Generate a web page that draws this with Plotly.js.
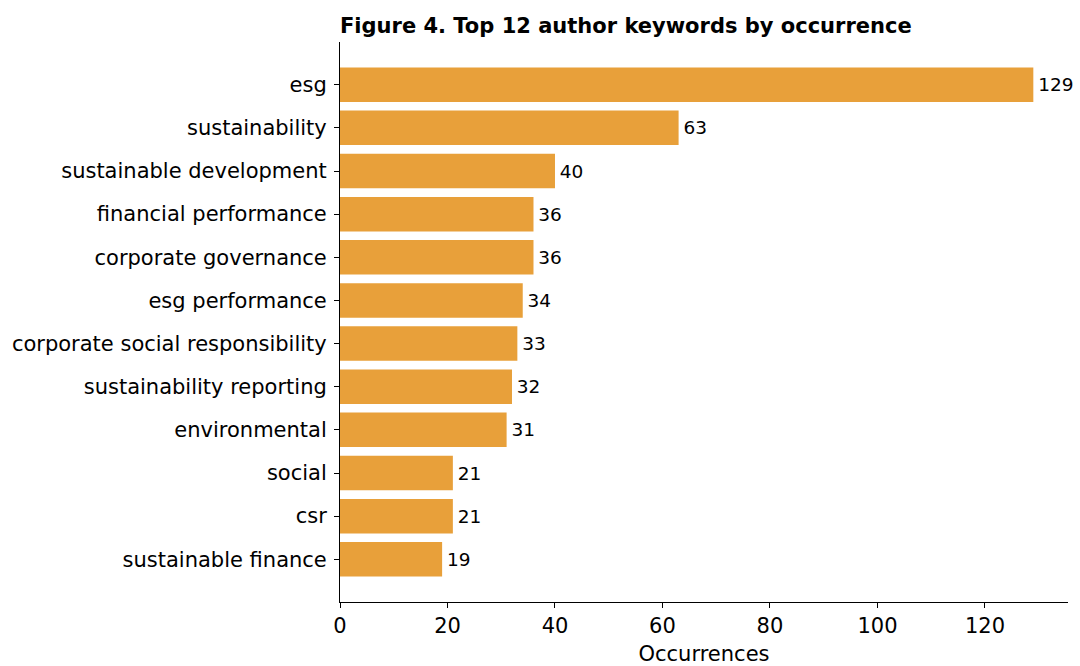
<!DOCTYPE html>
<html><head><meta charset="utf-8">
<script src="https://cdn.plot.ly/plotly-3.0.1.min.js"></script>
<style>html,body{margin:0;padding:0;background:#fff}</style>
</head><body>
<div id="chart" style="width:1080px;height:666px"></div>
<script>
const keywords = ["esg","sustainability","sustainable development","financial performance","corporate governance","esg performance","corporate social responsibility","sustainability reporting","environmental","social","csr","sustainable finance"];
const occurrences = [129,63,40,36,36,34,33,32,31,21,21,19];
const xTicks = [0,20,40,60,80,100,120];

const font = "DejaVu Sans, sans-serif";
const trace = {
  type: "bar", orientation: "h",
  x: occurrences, y: keywords,
  width: 0.8,
  marker: {color: "#E8A03A"},
  text: occurrences.map(v => "\u200A" + v),
  textposition: "outside",
  textfont: {family: font, size: 18.5, color: "#000"},
  cliponaxis: false,
  hoverinfo: "x+y"
};
const layout = {
  width: 1080, height: 666,
  margin: {l: 340, r: 12, t: 42, b: 64},
  paper_bgcolor: "#fff", plot_bgcolor: "#fff",
  showlegend: false,
  font: {family: font, color: "#000"},
  title: {text: "<b>Figure 4. Top 12 author keywords by occurrence</b>", x: 0, xref: "paper", xanchor: "left", y: 1, yref: "paper", yanchor: "bottom", pad: {b: 9}, font: {family: font, size: 21, color: "#000"}},
  xaxis: {range: [0, 135.45], tickvals: xTicks, ticktext: xTicks.map(String), showgrid: false, zeroline: false, showline: true, linecolor: "#000", linewidth: 1, ticks: "outside", ticklen: 5, tickcolor: "#000", tickfont: {family: font, size: 21, color: "#000"}, title: {text: "Occurrences", font: {family: font, size: 21, color: "#000"}, standoff: 9}},
  yaxis: {type: "category", categoryorder: "array", categoryarray: keywords, range: [11.99, -0.99], showgrid: false, zeroline: false, showline: true, linecolor: "#000", linewidth: 1, ticks: "outside", ticklen: 5, tickcolor: "#000", tickfont: {family: font, size: 21, color: "#000"}, ticklabelstandoff: 3}
};
Plotly.newPlot("chart", [trace], layout, {displayModeBar: false, staticPlot: true});
</script>
</body></html>
